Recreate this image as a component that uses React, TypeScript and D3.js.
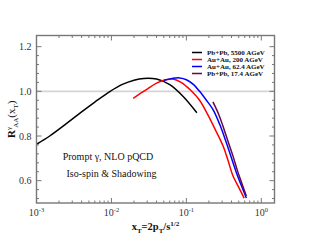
import React from 'react';
import * as d3 from 'd3';

// R_AA^gamma vs x_T
const pbpb5500X = [0.001, 0.0015, 0.0025, 0.004, 0.006, 0.0095, 0.014, 0.02, 0.027, 0.04, 0.06, 0.09, 0.138];
const pbpb5500Y = [0.763, 0.8, 0.855, 0.908, 0.952, 0.999, 1.031, 1.05, 1.058, 1.055, 1.03, 0.978, 0.904];

const auau200X = [0.0195, 0.0293, 0.04, 0.054, 0.068, 0.085, 0.1, 0.118, 0.15, 0.19, 0.25, 0.308, 0.36, 0.418, 0.5, 0.59];
const auau200Y = [0.969, 1.008, 1.037, 1.052, 1.054, 1.04, 1.022, 1.0, 0.96, 0.9, 0.82, 0.756, 0.69, 0.622, 0.57, 0.522];

const auau62X = [0.05, 0.065, 0.0815, 0.1, 0.125, 0.15, 0.185, 0.226, 0.28, 0.341, 0.464, 0.6, 0.631];
const auau62Y = [1.05, 1.058, 1.06, 1.052, 1.03, 1.0, 0.96, 0.919, 0.85, 0.771, 0.637, 0.541, 0.522];

const pbpb17X = [0.226, 0.268, 0.308, 0.36, 0.418, 0.48, 0.543, 0.631];
const pbpb17Y = [0.953, 0.9, 0.844, 0.775, 0.711, 0.645, 0.593, 0.531];

const seriesNames = ['Pb+Pb, 5500 AGeV', 'Au+Au, 200 AGeV', 'Au+Au, 62.4 AGeV', 'Pb+Pb, 17.4 AGeV'];
const seriesColors = ['#000000', '#ff0000', '#0000ff', '#670748'];

const yMajor = [0.6, 0.8, 1.0, 1.2];
const xDecades = [-3, -2, -1, 0];

const W = 310;
const H = 240;
const left = 36.5, right = 274.5, top = 35.5, bottom = 203;
const serif = '"Liberation Serif", "DejaVu Serif", serif';

const App: React.FC = () => {
  const x = d3.scaleLog().domain([1e-3, 1.5]).range([left, right]);
  const y = d3.scaleLinear().domain([0.5, 1.25]).range([bottom, top]);

  const series = [
    { xs: pbpb5500X, ys: pbpb5500Y },
    { xs: auau200X, ys: auau200Y },
    { xs: auau62X, ys: auau62Y },
    { xs: pbpb17X, ys: pbpb17Y },
  ];

  const line = d3.line<[number, number]>()
    .x((d) => x(d[0]))
    .y((d) => y(d[1]))
    .curve(d3.curveCatmullRom);

  // minor ticks
  const xMinor: number[] = [];
  xDecades.forEach((e) => {
    for (let k = 2; k <= 9; k++) {
      const v = k * Math.pow(10, e);
      if (v < 1.5) xMinor.push(v);
    }
  });
  const yMinor: number[] = [];
  for (let v = 0.52; v < 1.21; v += 0.04) {
    const r = Math.round(v * 100) / 100;
    if (!yMajor.some((m) => Math.abs(m - r) < 1e-6)) yMinor.push(r);
  }

  const tickColor = '#777';

  return (
    <svg width={W} height={H} style={{ position: 'absolute', left: 0, top: 0 }} fontFamily={serif}>
      <rect x={0} y={0} width={W} height={H} fill="#fff" />

      {/* reference line at 1 */}
      <line x1={left} x2={right} y1={y(1)} y2={y(1)} stroke="#d4d4d4" strokeWidth={1.6} />

      {/* curves */}
      {series.map((s, i) => (
        <path
          key={i}
          d={line(s.xs.map((v, j) => [v, s.ys[j]] as [number, number])) || ''}
          fill="none"
          stroke={seriesColors[i]}
          strokeWidth={1.5}
        />
      ))}

      {/* frame */}
      <rect x={left} y={top} width={right - left} height={bottom - top} fill="none" stroke={tickColor} strokeWidth={1.4} />

      {/* x ticks, bottom and top */}
      {xDecades.map((e) => {
        const px = x(Math.pow(10, e));
        return (
          <g key={'xm' + e}>
            <line x1={px} x2={px} y1={bottom} y2={bottom - 5} stroke={tickColor} />
            <line x1={px} x2={px} y1={top} y2={top + 5} stroke={tickColor} />
            <text x={px} y={216} textAnchor="middle" fontSize={10} fill="#333">
              10<tspan dy={-4.5} fontSize={6.5}>{String(e)}</tspan>
            </text>
          </g>
        );
      })}
      {xMinor.map((v, i) => (
        <g key={'xn' + i}>
          <line x1={x(v)} x2={x(v)} y1={bottom} y2={bottom - 2.5} stroke={tickColor} />
          <line x1={x(v)} x2={x(v)} y1={top} y2={top + 2.5} stroke={tickColor} />
        </g>
      ))}

      {/* y ticks, left and right */}
      {yMajor.map((v) => (
        <g key={'ym' + v}>
          <line x1={left} x2={left + 5} y1={y(v)} y2={y(v)} stroke={tickColor} />
          <line x1={right} x2={right - 5} y1={y(v)} y2={y(v)} stroke={tickColor} />
          <text x={31.5} y={y(v)} dy="0.35em" textAnchor="end" fontSize={10} fill="#333">
            {v.toFixed(1)}
          </text>
        </g>
      ))}
      {yMinor.map((v, i) => (
        <g key={'yn' + i}>
          <line x1={left} x2={left + 2.5} y1={y(v)} y2={y(v)} stroke={tickColor} />
          <line x1={right} x2={right - 2.5} y1={y(v)} y2={y(v)} stroke={tickColor} />
        </g>
      ))}

      {/* legend */}
      {seriesNames.map((name, i) => {
        const ly = 52.5 + i * 7;
        return (
          <g key={name}>
            <line x1={192} x2={202} y1={ly} y2={ly} stroke={seriesColors[i]} strokeWidth={1.5} />
            <text x={207} y={ly} dy="0.35em" fontSize={7} fontWeight="bold" fill="#111">
              {name}
            </text>
          </g>
        );
      })}

      {/* annotations */}
      <text x={108} y={160} textAnchor="middle" fontSize={10} fill="#111">Prompt γ, NLO pQCD</text>
      <text x={111.5} y={177} textAnchor="middle" fontSize={10} fill="#111">Iso-spin &amp; Shadowing</text>

      {/* x title */}
      <text x={(left + right) / 2} y={230} textAnchor="middle" fontSize={10.5} fontWeight="bold" fill="#111">
        x<tspan dy={3} fontSize={7}>T</tspan>
        <tspan dy={-3}>=2p</tspan>
        <tspan dy={3} fontSize={7}>T</tspan>
        <tspan dy={-3}>/s</tspan>
        <tspan dy={-4.5} fontSize={7}>1/2</tspan>
      </text>

      {/* y title */}
      <text transform={`translate(15,${(top + bottom) / 2}) rotate(-90)`} textAnchor="middle" fontSize={11} fill="#111">
        <tspan fontWeight="bold">R</tspan>
        <tspan dy={-4.5} fontSize={7}>γ</tspan>
        <tspan dy={7.5} dx={-1} fontSize={7}>AA</tspan>
        <tspan dy={-3}>(x</tspan>
        <tspan dy={3} fontSize={7}>T</tspan>
        <tspan dy={-3}>)</tspan>
      </text>
    </svg>
  );
};

export default App;
